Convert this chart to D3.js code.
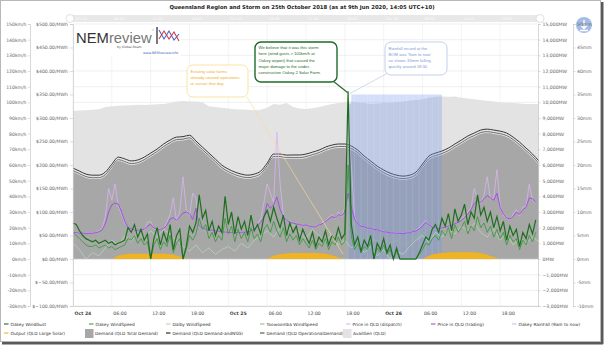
<!DOCTYPE html>
<html><head><meta charset="utf-8">
<script src="https://cdn.jsdelivr.net/npm/d3@7"></script>
<style>body{margin:0;background:#fff}svg{display:block}</style>
</head><body>
<svg id="c" width="604" height="347"></svg>
<script>
// ---------------- DATA ----------------
const titleText = "Queensland Region and Storm on 25th October 2018 (as at 9th Jun 2020, 14:05 UTC+10)";
const startTime = new Date(2018, 9, 24, 0, 0);
const endTime = new Date(2018, 9, 27, 0, 0);
// half-hourly timestamps (144) and hourly timestamps (73)
const halfHourTimes = d3.range(144).map(i => new Date(+startTime + i * 1800000));
const hourTimes = d3.range(73).map(i => new Date(+startTime + i * 3600000));

const kmhTicks = [-30,-20,-10,0,10,20,30,40,50,60,70,80,90,100,110,120,130,140,150];
const priceTicks = [-100,-50,0,50,100,150,200,250,300,350,400,450,500];
const mwTicks = [-3000,-2000,-1000,0,1000,2000,3000,4000,5000,6000,7000,8000,9000,10000,11000,12000,13000,14000,15000];
const mmTicks = [-10,-5,0,5,10,15,20,25,30,35,40,45,50];

// km/h, half-hourly
const oakeyWindGust = [
 23,22,18,15,13,12,11,12,10,11,12,10,
 11,9,10,11,12,20,17,22,14,19,12,16,
 0,13,20,9,17,11,22,6,15,19,0,8,
 21,17,23,41,26,31,18,24,15,21,17,40,
 22,30,16,27,19,24,15,28,18,22,16,27,
 31,24,33,26,20,28,15,23,17,21,12,19,
 14,10,17,8,14,11,18,9,15,12,20,13,
 16,107,22,9,14,5,12,8,15,0,10,6,
 13,4,9,0,7,0,0,0,0,0,0,4,
 9,14,12,19,22,17,26,21,29,18,32,24,
 28,35,22,30,26,41,28,33,24,30,20,27,
 18,24,12,21,15,19,8,17,13,22,16,25];
const oakeyWindSpeed = [
 17,15,13,11,9,8,8,9,7,8,9,7,
 8,6,7,8,9,13,12,15,10,13,9,11,
 0,9,13,6,11,8,15,4,10,13,0,6,
 15,12,16,26,19,22,13,17,11,15,12,26,
 16,21,11,19,13,17,11,20,13,16,11,19,
 22,17,24,18,14,20,11,16,12,15,9,13,
 10,7,12,6,10,8,13,6,11,9,14,9,
 11,60,15,6,10,4,8,6,11,0,7,4,
 9,3,6,0,5,0,0,0,0,0,0,3,
 6,10,9,13,15,12,18,15,20,13,22,17,
 20,24,16,21,18,27,20,23,17,21,14,19,
 13,17,9,15,11,13,6,12,9,15,11,17];
// km/h, hourly
const dalbyWindSpeed = [10,6,0,4,2,7,12,9,15,11,17,13,18,14,19,16,12,8,5,9,4,7,3,6,8,5,10,7,12,15,18,14,20,16,22,17,13,19,15,11,16,9,12,7,10,4,8,2,6,0,5,3,8,12,15,11,17,14,19,16,21,18,23,17,14,19,12,16,9,13,10,14,11];
const toowoombaWindSpeed = [20,18,12,8,14,17,20,22,18,24,19,23,26,21,25,28,24,30,27,33,29,35,31,36,30,34,28,31,26,29,33,27,24,28,22,25,19,23,18,21,17,24,20,26,15,12,14,11,13,10,12,9,11,14,16,19,22,25,21,27,24,29,26,22,25,20,23,18,21,16,19,15,17];
// $/MWh, half-hourly
const priceDispatch = [
 58,55,56,54,55,53,56,57,60,65,90,150,
 125,160,112,95,76,70,62,63,60,64,61,78,
 80,64,62,65,64,78,95,130,80,100,175,105,
 92,140,130,68,67,62,63,60,61,58,59,56,
 58,55,57,55,58,56,59,62,66,75,85,120,
 160,140,120,270,160,95,80,80,75,77,72,74,
 70,72,66,71,70,78,82,88,95,86,100,90,
 110,290,200,90,74,72,66,67,64,64,61,61,
 59,56,57,54,56,53,55,54,57,57,62,66,
 75,82,70,70,65,66,65,70,69,74,74,80,
 85,92,100,110,150,128,118,135,175,128,130,190,
 115,92,90,83,95,105,92,110,112,160,125,118];
const priceTrading = [
 57,56,55,55,54,54,55,56,58,62,75,100,
 115,119,117,100,80,68,64,62,61,62,63,70,
 74,66,63,63,65,72,85,88,82,90,98,100,
 96,84,108,70,66,63,62,61,60,59,58,57,
 57,56,56,56,57,57,58,60,64,70,78,88,
 118,108,115,132,105,90,82,78,76,75,73,72,
 72,70,68,69,72,75,80,85,90,88,95,92,
 100,140,110,85,75,70,68,66,65,63,62,60,
 58,57,56,55,55,54,54,55,56,58,60,64,
 70,78,72,68,66,65,66,68,70,72,75,78,
 82,88,95,105,118,125,120,128,135,130,125,140,
 110,95,88,85,90,100,95,105,110,130,128,120];
// mm (9am to now), half-hourly
const oakeyRainfall = [
 0,0,0,0,0,0,0,0,0,0,0,0,
 0,0,0,0,0,0,0,0,0,0,0,0,
 0,0,0,0,0,0,0,0,0,0,0,0,
 0,0,0,0,0,0,0,0,0,0,0,0,
 0,0,0,0,0,0,0,0,0,0,0,0,
 0,0,0,0,0,0,0,0,0,0,0,0,
 0,0,0,0,0,0,0,0,0,0,0,0,
 0,33,35,35,35,35,35,35,35,35,35,35,
 35,35,35,35,35,35,35,35,35,35,35,35,
 35,35,35,35,35,35,0,0,0,0,0,0,
 0,0,0,0,0,0,0,0,0,0,0,0,
 0,0,0,0,0,0,0,0,0,0,0,0];
// MW, hourly
const solarOutput = [0,0,0,0,0,0,20,200,300,330,340,340,340,340,330,300,220,90,0,0,0,0,0,0,0,0,0,0,0,0,20,200,310,350,380,390,390,390,370,330,240,100,0,0,0,0,0,0,0,0,0,0,0,0,20,210,330,390,420,430,430,430,410,370,270,120,0,0,0,0,0,0,0];
const demandTotal = [5550,5360,5170,5100,5100,5300,5800,6250,6130,6000,6060,6250,6510,6770,7090,7340,7530,7560,7650,7280,6890,6510,6130,5740,5490,5300,5170,5100,5170,5360,5870,6450,6450,6380,6380,6380,6450,6570,6700,6890,7020,7090,7090,6960,6700,6320,6000,5680,5430,5230,5100,5040,5100,5300,5810,6320,6510,6640,6830,7090,7340,7600,7790,7980,8040,7980,7910,7790,7530,7210,6830,6450,6000];
const demandAndNSG = [5800,5610,5420,5350,5350,5550,6050,6500,6390,6260,6320,6500,6760,7020,7340,7590,7780,7810,7900,7530,7140,6760,6380,5990,5740,5550,5420,5350,5420,5610,6120,6700,6700,6630,6640,6640,6700,6820,6950,7140,7270,7340,7340,7210,6950,6570,6250,5930,5680,5480,5350,5290,5350,5550,6060,6570,6760,6890,7080,7340,7590,7850,8040,8230,8290,8230,8160,8040,7780,7460,7080,6700,6250];
const operationalDemand = [5640,5450,5260,5190,5190,5390,5890,6340,6220,6090,6150,6340,6600,6860,7180,7430,7620,7650,7740,7370,6980,6600,6220,5830,5580,5390,5260,5190,5260,5450,5960,6540,6540,6470,6470,6470,6540,6660,6790,6980,7110,7180,7180,7050,6790,6410,6090,5770,5520,5320,5190,5130,5190,5390,5900,6410,6600,6730,6920,7180,7430,7690,7880,8070,8130,8070,8000,7880,7620,7300,6920,6540,6090];
const availGen = [9450,9480,9500,9520,9560,9700,9750,9780,9800,9820,9850,9830,9850,9870,9900,9950,10050,10080,10050,10060,10000,9750,9700,9650,9600,9560,9540,9520,9500,9520,9650,9900,9850,9950,9700,9600,9580,9620,9700,9800,9900,9950,10000,10050,9980,9950,9900,9920,9950,9980,10000,10050,10100,10150,10200,10300,10350,10380,10350,10380,10300,10250,10200,10150,10100,10050,10000,9980,9950,9920,9900,9900,9880];

const legendRow1 = ["Oakey WindGust","Oakey WindSpeed","Dalby WindSpeed","Toowoomba WindSpeed","Price in QLD (dispatch)","Price in QLD (trading)","Oakey RainFall (9am to now)"];
const legendRow2 = ["Output (QLD Large Solar)","Demand (QLD Total Demand)","Demand (QLD Demand-andNSG)","Demand (QLD OperationalDemand)","AvailGen (QLD)"];

const calloutYellow = ["Existing solar farms","already ceased operations","at sunset that day"];
const calloutGreen = ["We believe that it was this storm","here (wind gusts > 100km/h at","Oakey airport) that caused the","major damage to the under-","construction Oakey 2 Solar Farm."];
const calloutBlue = ["Rainfall record at the","BOM was '9am to now'","so shows 35mm falling","quickly around 18:30"];

// ---------------- LAYOUT ----------------
const L = 73, R = 539, T = 24, B = 306;
const FONT = "DejaVu Sans, Verdana, sans-serif";
const svg = d3.select("#c");
svg.append("rect").attr("width", 604).attr("height", 347).attr("fill", "#fff");

const x = d3.scaleTime().domain([startTime, endTime]).range([L, R]);
const yKmh = d3.scaleLinear().domain([-30, 150]).range([B, T]);
const yPrice = d3.scaleLinear().domain([-100, 500]).range([B, T]);
const yMW = d3.scaleLinear().domain([-3000, 15000]).range([B, T]);
const yMM = d3.scaleLinear().domain([-10, 50]).range([B, T]);

const colors = {
  gust: "#1d6e1d", speed: "#3e9b3e", dalby: "#b3d6b3", toow: "#94bb94",
  dispatch: "#d8b4f2", trading: "#a650e6", rain: "#b8c8f0",
  solar: "#f0b321", total: "#a7a7a7", nsg: "#1a1a1a", oper: "#4a4a4a", avail: "#e3e3e3"
};

// frame + shadow
svg.append("rect").attr("x", 2).attr("y", 341.5).attr("width", 601).attr("height", 3).attr("fill", "#5a5a5a");
svg.append("rect").attr("x", 600.5).attr("y", 2).attr("width", 3).attr("height", 342).attr("fill", "#5a5a5a");
svg.append("rect").attr("x", 0.5).attr("y", 0.5).attr("width", 600).attr("height", 341).attr("fill", "#fff").attr("stroke", "#b8b8b8");

// title
svg.append("text").attr("x", 302).attr("y", 9).attr("text-anchor", "middle")
  .attr("font-family", FONT).attr("font-weight", "bold").attr("font-size", 5.3).attr("fill", "#222").text(titleText);

// x ticks every 6 hours (excluding the closing edge)
const xTicks = x.ticks(d3.timeHour.every(6)).filter(d => +d < +endTime);
const tickFmt = d => d.getHours() === 0 ? d3.timeFormat("%b %d")(d) : d3.timeFormat("%H:%M")(d);

// navigator bar on top
svg.append("rect").attr("x", 70).attr("y", 15).attr("width", 470).attr("height", 7).attr("rx", 3.5).attr("fill", "#e8e8e8");
svg.append("g").selectAll("text").data(xTicks).join("text")
  .attr("x", d => x(d) + 2).attr("y", 20).attr("font-family", FONT).attr("font-size", 3.6).attr("fill", "#fbfbfb")
  .text(tickFmt);
[70, 540].forEach(cx => svg.append("circle").attr("cx", cx).attr("cy", 18.5).attr("r", 4).attr("fill", "#fff").attr("stroke", "#ccc").attr("stroke-width", 0.6));

// download button
svg.append("circle").attr("cx", 584).attr("cy", 25).attr("r", 8).attr("fill", "#a3bde6");
svg.append("path").attr("d", "M584,20 V28 M580.5,25 L584,28.5 L587.5,25 M580,30.5 H588").attr("stroke", "#fff").attr("stroke-width", 1.4).attr("fill", "none");

// grid
const grid = svg.append("g");
grid.selectAll("line.h").data(kmhTicks).join("line").attr("class", "h")
  .attr("x1", L).attr("x2", R).attr("y1", d => yKmh(d)).attr("y2", d => yKmh(d))
  .attr("stroke", "#e6e6e6").attr("stroke-width", 0.6);
grid.selectAll("line.v").data(xTicks).join("line").attr("class", "v")
  .attr("x1", d => x(d)).attr("x2", d => x(d)).attr("y1", T).attr("y2", B)
  .attr("stroke", "#ececec").attr("stroke-width", 0.6);

const plot = svg.append("g");
// AvailGen area
plot.append("path").datum(availGen)
  .attr("d", d3.area().x((d, i) => x(hourTimes[i])).y0(yMW(0)).y1(d => yMW(d)))
  .attr("fill", colors.avail);
// Total demand area
plot.append("path").datum(demandTotal)
  .attr("d", d3.area().x((d, i) => x(hourTimes[i])).y0(yMW(0)).y1(d => yMW(d)).curve(d3.curveMonotoneX))
  .attr("fill", colors.total);
// demand lines
plot.append("path").datum(operationalDemand)
  .attr("d", d3.line().x((d, i) => x(hourTimes[i])).y(d => yMW(d)).curve(d3.curveMonotoneX))
  .attr("fill", "none").attr("stroke", colors.oper).attr("stroke-width", 0.75);
plot.append("path").datum(demandAndNSG)
  .attr("d", d3.line().x((d, i) => x(hourTimes[i])).y(d => yMW(d)).curve(d3.curveMonotoneX))
  .attr("fill", "none").attr("stroke", colors.nsg).attr("stroke-width", 0.85);
// zero line
plot.append("line").attr("x1", L).attr("x2", R).attr("y1", yMW(0)).attr("y2", yMW(0)).attr("stroke", "#cfcfcf").attr("stroke-width", 0.6);

// rainfall columns
const halfHour = 1800000;
plot.append("g").selectAll("rect").data(oakeyRainfall.map((v, i) => ({ v, t: halfHourTimes[i], i })).filter(d => d.v > 0))
  .join("rect")
  .attr("x", d => x(d.t)).attr("width", d => x(new Date(+d.t + halfHour)) - x(d.t))
  .attr("y", d => yMM(d.v)).attr("height", d => yMM(0) - yMM(d.v))
  .attr("fill", "rgba(110,145,235,0.30)");
plot.append("g").selectAll("line").data(oakeyRainfall.map((v, i) => ({ v, t: halfHourTimes[i], i })).filter(d => d.v > 0 && d.i % 2 === 1))
  .join("line")
  .attr("x1", d => x(d.t)).attr("x2", d => x(d.t))
  .attr("y1", d => yMM(d.v)).attr("y2", yMM(0))
  .attr("stroke", "rgba(255,255,255,0.22)").attr("stroke-width", 0.5);

// solar
plot.append("path").datum(solarOutput)
  .attr("d", d3.area().x((d, i) => x(hourTimes[i])).y0(yMW(0)).y1(d => yMW(d)).curve(d3.curveMonotoneX))
  .attr("fill", colors.solar);

// wind lines
const hourLine = sc => d3.line().x((d, i) => x(hourTimes[i])).y(d => sc(d));
const halfLine = sc => d3.line().x((d, i) => x(halfHourTimes[i])).y(d => sc(d));
plot.append("path").datum(toowoombaWindSpeed).attr("d", hourLine(yKmh)).attr("fill", "none").attr("stroke", colors.toow).attr("stroke-width", 0.8).attr("opacity", 0.8);
plot.append("path").datum(dalbyWindSpeed).attr("d", hourLine(yKmh)).attr("fill", "none").attr("stroke", colors.dalby).attr("stroke-width", 0.8);
// prices
plot.append("path").datum(priceDispatch).attr("d", halfLine(yPrice)).attr("fill", "none").attr("stroke", colors.dispatch).attr("stroke-width", 0.8);
plot.append("path").datum(priceTrading).attr("d", halfLine(yPrice)).attr("fill", "none").attr("stroke", colors.trading).attr("stroke-width", 1);
plot.append("path").datum(oakeyWindSpeed).attr("d", halfLine(yKmh)).attr("fill", "none").attr("stroke", colors.speed).attr("stroke-width", 0.9);
plot.append("path").datum(oakeyWindGust).attr("d", halfLine(yKmh)).attr("fill", "none").attr("stroke", colors.gust).attr("stroke-width", 1.2);

// ---------------- AXES ----------------
function styleAxis(g) {
  g.selectAll(".domain").attr("stroke", "#c8c8c8").attr("stroke-width", 0.7);
  g.selectAll(".tick line").attr("stroke", "#c8c8c8").attr("stroke-width", 0.6);
  g.selectAll("text").attr("font-family", FONT).attr("font-size", 4.6).attr("fill", "#666");
}
const fmtInt = d3.format(",");
svg.append("g").attr("transform", "translate(30,0)")
  .call(d3.axisLeft(yKmh).tickValues(kmhTicks).tickSize(2).tickPadding(1.5).tickFormat(d => d + "km/h"))
  .call(styleAxis);
svg.append("g").attr("transform", `translate(${L},0)`)
  .call(d3.axisLeft(yPrice).tickValues(priceTicks).tickSize(3).tickPadding(2).tickFormat(d => "$" + d3.format(".2f")(d) + "/MWh"))
  .call(styleAxis);
svg.append("g").attr("transform", `translate(${R - 1},0)`)
  .call(d3.axisRight(yMW).tickValues(mwTicks).tickSize(2.5).tickPadding(2).tickFormat(d => fmtInt(d) + "MW"))
  .call(styleAxis);
svg.append("g").attr("transform", "translate(573,0)")
  .call(d3.axisRight(yMM).tickValues(mmTicks).tickSize(2.5).tickPadding(1.5).tickFormat(d => d + "mm"))
  .call(styleAxis);
const xAxis = svg.append("g").attr("transform", `translate(0,${B})`)
  .call(d3.axisBottom(x).tickValues(xTicks).tickSize(0).tickPadding(6).tickFormat(tickFmt))
  .call(styleAxis);
xAxis.selectAll("text").attr("text-anchor", "start").attr("dx", 1).attr("fill", "#444")
  .attr("font-weight", d => d.getHours() === 0 ? "bold" : "normal");

// ---------------- LOGO ----------------
const logo = svg.append("g");
logo.append("rect").attr("x", 74).attr("y", 25).attr("width", 107).attr("height", 31).attr("fill", "#fff");
const lt = logo.append("text").attr("x", 76).attr("y", 43).attr("font-family", "Liberation Sans, Arial, sans-serif").attr("font-size", 14.8);
lt.append("tspan").attr("fill", "#333").text("NEM");
lt.append("tspan").attr("fill", "#777").text("review");
logo.append("text").attr("x", 151).attr("y", 32).attr("font-size", 3.5).attr("font-family", FONT).attr("fill", "#666").text("™");
logo.append("text").attr("x", 117).attr("y", 48).attr("font-size", 3.1).attr("font-family", FONT).attr("fill", "#555").text("by Global-Roam");
logo.append("text").attr("x", 143).attr("y", 53.5).attr("font-size", 3.4).attr("font-family", FONT).attr("fill", "#3a5fc0").text("www.NEMreview.info");
logo.append("line").attr("x1", 157).attr("x2", 157).attr("y1", 27).attr("y2", 44).attr("stroke", "#333").attr("stroke-width", 1.3);
logo.append("polyline").attr("points", "159,30 164,39 169,31 174,40 179,34").attr("fill", "none").attr("stroke", "#3b6fc9").attr("stroke-width", 1.1);
logo.append("polyline").attr("points", "159,39 164,31 169,39 174,32 179,41").attr("fill", "none").attr("stroke", "#d8384a").attr("stroke-width", 1.1);

// ---------------- CALLOUTS ----------------
const CFONT = "Liberation Sans, Arial, sans-serif";
function callout(box, lines, lineYs, textX, stroke, sw, textColor, from, to) {
  svg.append("line").attr("x1", from[0]).attr("y1", from[1]).attr("x2", to[0]).attr("y2", to[1])
    .attr("stroke", stroke).attr("stroke-width", sw * 0.8);
  svg.append("rect").attr("x", box[0]).attr("y", box[1]).attr("width", box[2]).attr("height", box[3])
    .attr("rx", 6).attr("fill", "#fff").attr("stroke", stroke).attr("stroke-width", sw);
  svg.append("g").selectAll("text").data(lines).join("text")
    .attr("x", textX).attr("y", (d, i) => lineYs[i]).attr("font-family", CFONT).attr("font-size", 4.2)
    .attr("fill", textColor).text(d => d);
}
callout([187, 65, 61, 32], calloutYellow, [73, 79, 85], 190.5, "#f7dd8c", 0.8, "#f0ad2a", [246.5, 96.5], [343, 254]);
callout([255, 42, 82, 40], calloutGreen, [48.8, 55.2, 61.6, 68, 74.4], 258.5, "#1f6b2a", 1.4, "#1f6b2a", [333, 81], [347.5, 92.5]);
callout([385, 42, 62, 33], calloutBlue, [49.8, 55.8, 61.8, 67.8], 388.5, "#b2c4e6", 0.8, "#7f9ad2", [387, 73.5], [350, 93.5]);

// ---------------- LEGEND ----------------
const leg = svg.append("g").attr("font-family", FONT).attr("font-size", 4.3).attr("fill", "#333");
const row1X = [4, 89, 166, 260, 346, 431, 512];
const row1C = [colors.gust, colors.speed, colors.dalby, colors.toow, colors.dispatch, colors.trading, colors.rain];
legendRow1.forEach((name, i) => {
  leg.append("line").attr("x1", row1X[i]).attr("x2", row1X[i] + 4.5).attr("y1", 324).attr("y2", 324).attr("stroke", row1C[i]).attr("stroke-width", 1.1);
  leg.append("text").attr("x", row1X[i] + 6.5).attr("y", 325.6).text(name);
});
const row2X = [4, 85, 166, 260, 343];
const row2C = [colors.solar, colors.total, colors.nsg, colors.oper, colors.avail];
legendRow2.forEach((name, i) => {
  if (i === 1 || i === 4) {
    leg.append("rect").attr("x", row2X[i]).attr("y", 329).attr("width", 8.5).attr("height", 9).attr("fill", row2C[i]);
    leg.append("text").attr("x", row2X[i] + 10).attr("y", 334.6).text(name);
  } else {
    leg.append("line").attr("x1", row2X[i]).attr("x2", row2X[i] + 4.5).attr("y1", 333).attr("y2", 333).attr("stroke", row2C[i]).attr("stroke-width", 1.1);
    leg.append("text").attr("x", row2X[i] + 6.5).attr("y", 334.6).text(name);
  }
});
</script>
</body></html>
